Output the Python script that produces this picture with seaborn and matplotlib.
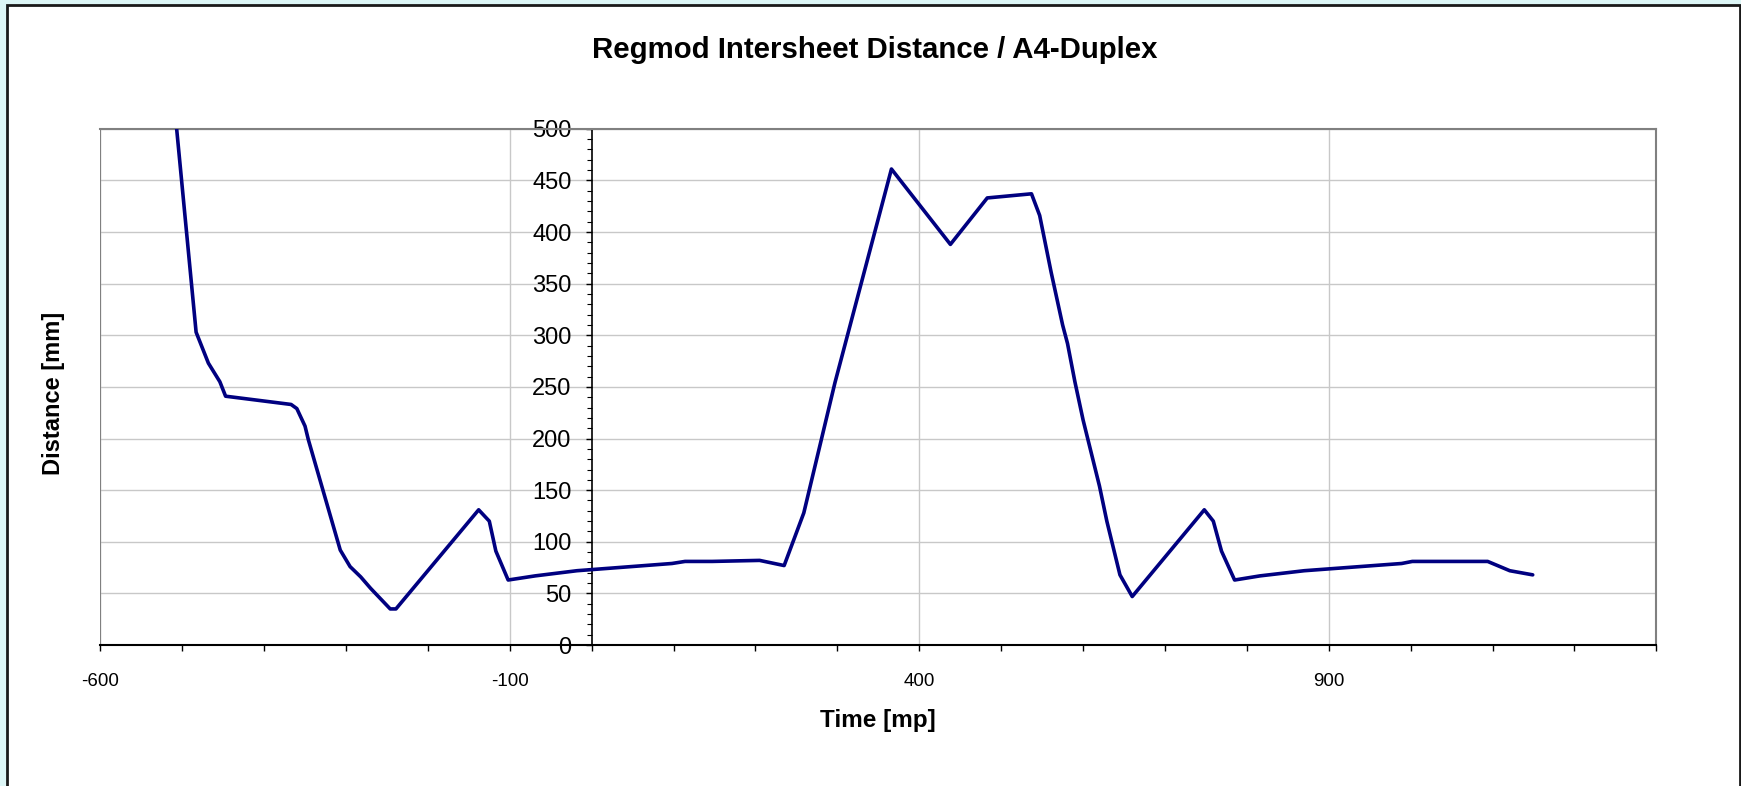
import numpy as np
import pandas as pd
import matplotlib
matplotlib.use("Agg")
import matplotlib.pyplot as plt
from matplotlib.patches import Rectangle
from matplotlib.ticker import FixedLocator, MultipleLocator
import seaborn as sns

# values
time_mp = [-514, -483, -468, -454, -447, -367, -360, -350, -346, -307,
           -295, -282, -270, -246, -239, -138, -125, -117, -102, -69,
           -18, 98, 114, 147, 205, 235, 259, 297, 366, 438,
           483, 537, 547, 561, 575, 581, 590, 600, 620, 629,
           645, 660, 748, 759, 769, 785, 816, 870, 989, 1002,
           1094, 1121, 1149]
distance_mm = [560, 303, 273, 255, 241, 233, 229, 212, 199, 92,
               76, 66, 55, 35, 35, 131, 120, 91, 63, 67,
               72, 79, 81, 81, 82, 77, 128, 254, 461, 388,
               433, 437, 416, 361, 310, 292, 255, 218, 154, 120,
               68, 47, 131, 120, 91, 63, 67, 72, 79, 81,
               81, 72, 68]

x_major = [-600, -100, 400, 900]
title = "Regmod Intersheet Distance / A4-Duplex"

sns.set_style("white")
plt.rcParams["font.family"] = ["Liberation Sans", "DejaVu Sans"]
plt.rcParams["axes.unicode_minus"] = False
plt.rcParams["text.color"] = "black"
plt.rcParams["xtick.color"] = "black"
plt.rcParams["ytick.color"] = "black"
plt.rcParams["axes.labelcolor"] = "black"

df = pd.DataFrame({"time": time_mp, "distance": distance_mm})

fig = plt.figure(figsize=(17.41, 7.86), dpi=100, facecolor="#DDF6F6")
# white chart area with dark border
fig.patches.append(Rectangle((6.5 / 1741, -0.01), 1733 / 1741, 1.01 - 4.5 / 786,
                             transform=fig.transFigure, facecolor="white",
                             edgecolor="#1a1a1a", linewidth=2, zorder=-1))

ax = fig.add_axes([0.0576, 0.1793, 0.8938, 0.6569])
ax.set_facecolor("white")

sns.lineplot(data=df, x="time", y="distance", sort=False, estimator=None,
             color="#000080", linewidth=2.6, ax=ax, zorder=5)

ax.set_xlim(-600, 1300)
ax.set_ylim(0, 500)

ax.xaxis.set_major_locator(FixedLocator(x_major))
ax.xaxis.set_minor_locator(MultipleLocator(100))
ax.yaxis.set_major_locator(MultipleLocator(50))
ax.yaxis.set_minor_locator(MultipleLocator(10))

ax.grid(True, which="major", color="#C8C8C8", linewidth=1.0)
ax.set_axisbelow(True)

# y axis crosses at time 0, frame stays gray
ax.spines["left"].set_position(("data", 0))
ax.spines["left"].set_color("black")
ax.spines["left"].set_linewidth(1.2)
ax.spines["bottom"].set_color("black")
ax.spines["bottom"].set_linewidth(1.5)
for side in ["top", "right"]:
    ax.spines[side].set_color("#808080")
    ax.spines[side].set_linewidth(1.5)
ax.axvline(-600, color="#808080", linewidth=1.5, zorder=1)

ax.tick_params(which="both", bottom=True, left=True, top=False, right=False)
ax.tick_params(axis="x", which="major", direction="out", length=4, width=1,
               pad=16, labelsize=13.5, color="black")
ax.tick_params(axis="x", which="minor", direction="out", length=4, width=1,
               color="black")
ax.tick_params(axis="y", which="major", direction="out", length=4.5, width=1,
               pad=10, labelsize=17, color="black")
ax.tick_params(axis="y", which="minor", direction="out", length=3.5, width=0.8,
               color="black")

ax.set_xlabel("Time [mp]", fontsize=17.5, fontweight="bold", va="center")
ax.set_ylabel("Distance [mm]", fontsize=17, fontweight="bold", va="center")
ax.xaxis.set_label_coords(0.5, -0.147)
ax.yaxis.set_label_coords(-0.0298, 0.488)

fig.text(875 / 1741, 0.936, title, ha="center", va="center",
         fontsize=21.2, fontweight="bold")

fig.savefig("out.png", dpi=100, facecolor=fig.get_facecolor())
plt.close(fig)
